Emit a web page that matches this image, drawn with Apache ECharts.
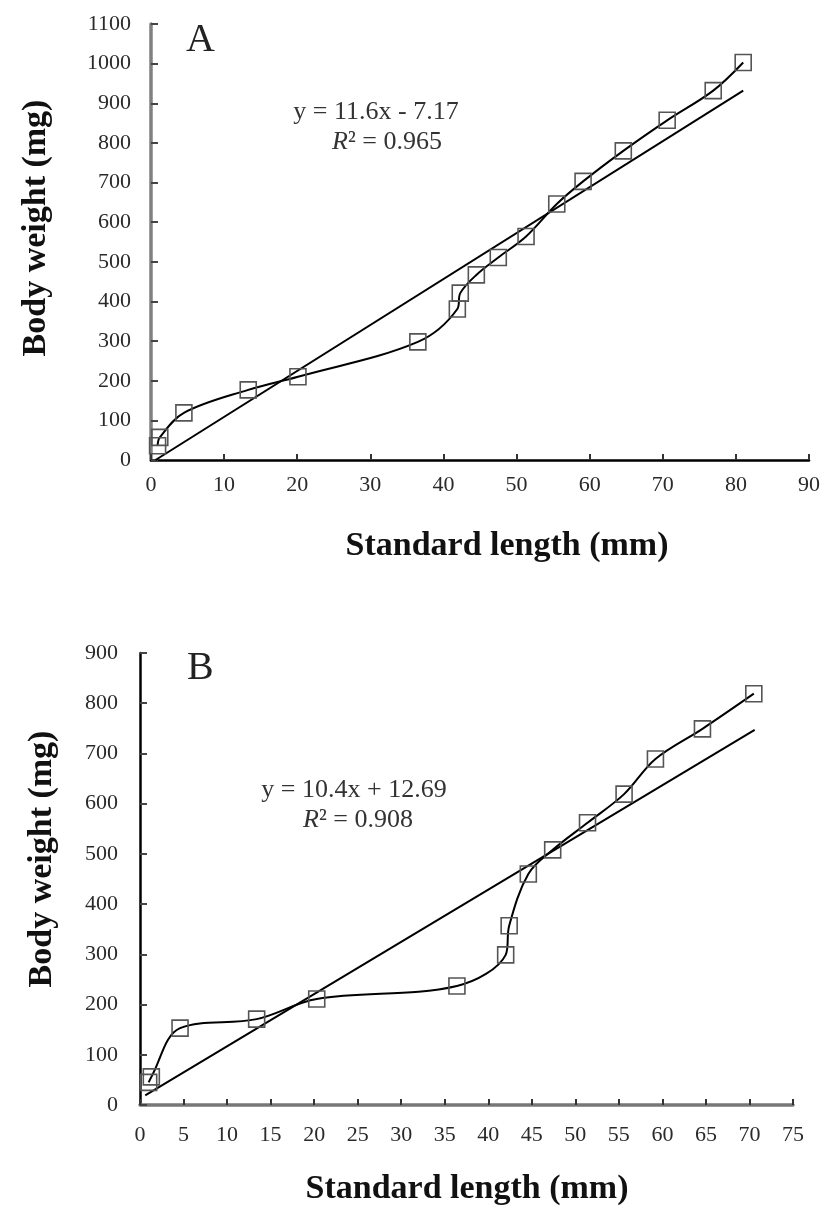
<!DOCTYPE html>
<html>
<head>
<meta charset="utf-8">
<script src="https://cdn.jsdelivr.net/npm/echarts@6/dist/echarts.min.js"></script>
<style>
html,body{margin:0;padding:0;background:#fff;}
#chart{width:827px;height:1217px;}
</style>
</head>
<body>
<div id="chart"></div>
<script>
// Panel A data (standard length mm, body weight mg)
var lengthA = [0.9, 1.2, 4.5, 13.3, 20.1, 36.5, 41.9, 42.3, 44.5, 47.5, 51.3, 55.5, 59.1, 64.6, 70.6, 76.9, 81.0];
var weightA = [36, 57, 119, 177, 210, 298, 381, 421, 467, 511, 564, 646, 703, 780, 857, 932, 1003];
// Panel A linear trend line endpoints
var trendAX = [0.62, 81.0];
var trendAY = [0, 932];

// Panel B data
var lengthB = [1.0, 1.3, 4.6, 13.4, 20.3, 36.4, 42.0, 42.4, 44.6, 47.4, 51.4, 55.6, 59.2, 64.6, 70.5];
var weightB = [45, 56, 153, 171, 211, 237, 299, 357, 460, 508, 562, 619, 689, 749, 819];
var trendBX = [0.6, 70.6];
var trendBY = [19, 747];

// Axis settings
var xMaxA = 90, xStepA = 10, yMaxA = 1100, yStepA = 100;
var xMaxB = 75, xStepB = 5, yMaxB = 900, yStepB = 100;

var panelLabels = ['A', 'B'];
var eqA = ['y = 11.6x - 7.17', '0.965'];
var eqB = ['y = 10.4x + 12.69', '0.908'];
var xTitle = 'Standard length (mm)';
var yTitle = 'Body weight (mg)';

function pairs(xs, ys){ return xs.map(function(x,i){ return [x, ys[i]]; }); }

var SERIF = "'Liberation Serif','Times New Roman',serif";
var tickFont = {fontFamily: SERIF, fontSize: 22, color: '#2a2a2a'};
var titleFontCss = 'bold 34px ' + SERIF;

function xAxisCfg(idx, max, step, lineColor, lineWidth, margin){
  return {
    type: 'value', gridIndex: idx, min: 0, max: max, interval: step,
    axisLine: {show: true, onZero: false, lineStyle: {color: lineColor, width: lineWidth}},
    axisTick: {show: true, inside: true, length: 6, lineStyle: {color: '#333', width: 2}},
    axisLabel: Object.assign({margin: margin, formatter: function(v){ return String(v); }}, tickFont),
    splitLine: {show: false}
  };
}
function yAxisCfg(idx, max, step, lineColor, lineWidth, margin){
  return {
    type: 'value', gridIndex: idx, min: 0, max: max, interval: step,
    axisLine: {show: true, onZero: false, lineStyle: {color: lineColor, width: lineWidth}},
    axisTick: {show: true, inside: true, length: 7, lineStyle: {color: '#444', width: 2}},
    axisLabel: Object.assign({margin: margin, formatter: function(v){ return String(v); }}, tickFont),
    splitLine: {show: false}
  };
}
function dataSeries(idx, xs, ys){
  return {
    type: 'line', xAxisIndex: idx, yAxisIndex: idx, data: pairs(xs, ys),
    smooth: 0.35, symbol: 'rect', symbolSize: 16, showSymbol: true,
    lineStyle: {color: '#000', width: 2},
    itemStyle: {color: 'rgba(255,255,255,0)', borderColor: '#555', borderWidth: 1.6},
    z: 3, animation: false
  };
}
function trendSeries(idx, xs, ys){
  return {
    type: 'line', xAxisIndex: idx, yAxisIndex: idx, data: pairs(xs, ys),
    symbol: 'none', lineStyle: {color: '#000', width: 2}, z: 2, animation: false
  };
}
function eqText(x, y, s){
  return {type: 'text', x: x, y: y, style: {text: s, font: '26px ' + SERIF, fill: '#333', textAlign: 'center', textVerticalAlign: 'middle'}};
}
function r2Text(x, y, v){
  return {type: 'text', x: x, y: y, style: {
    text: '{i|R}{n|² = ' + v + '}', textAlign: 'center', textVerticalAlign: 'middle',
    rich: {i: {fontFamily: SERIF, fontSize: 26, fontStyle: 'italic', fill: '#333'}, n: {fontFamily: SERIF, fontSize: 26, fill: '#333'}}
  }};
}
function xTitleText(x, y){
  return {type: 'text', x: x, y: y, style: {text: xTitle, font: titleFontCss, fill: '#111', textAlign: 'center', textVerticalAlign: 'middle'}};
}
function yTitleText(x, y){
  return {type: 'text', x: x, y: y, rotation: Math.PI / 2, style: {text: yTitle, font: titleFontCss, fill: '#111', textAlign: 'center', textVerticalAlign: 'middle'}};
}

var chart = echarts.init(document.getElementById('chart'), null, {renderer: 'canvas'});
chart.setOption({
  backgroundColor: '#fff',
  animation: false,
  grid: [
    {left: 151, top: 24, width: 658, height: 436},
    {left: 140, top: 653, width: 653, height: 452}
  ],
  xAxis: [
    xAxisCfg(0, xMaxA, xStepA, '#000', 2.5, 14),
    xAxisCfg(1, xMaxB, xStepB, '#777', 3.5, 19)
  ],
  yAxis: [
    yAxisCfg(0, yMaxA, yStepA, '#808080', 3.5, 20),
    yAxisCfg(1, yMaxB, yStepB, '#000', 2.5, 22)
  ],
  series: [
    trendSeries(0, trendAX, trendAY),
    dataSeries(0, lengthA, weightA),
    trendSeries(1, trendBX, trendBY),
    dataSeries(1, lengthB, weightB)
  ],
  graphic: [
    {type: 'text', left: 186, top: 20, style: {text: panelLabels[0], font: '40px ' + SERIF, fill: '#222'}},
    {type: 'text', left: 187, top: 648, style: {text: panelLabels[1], font: '40px ' + SERIF, fill: '#222'}},
    eqText(376, 112, eqA[0]),
    r2Text(387, 142, eqA[1]),
    eqText(354, 790, eqB[0]),
    r2Text(358, 820, eqB[1]),
    xTitleText(507, 546),
    xTitleText(467, 1189),
    yTitleText(36, 228),
    yTitleText(42, 859)
  ]
});
</script>
</body>
</html>
